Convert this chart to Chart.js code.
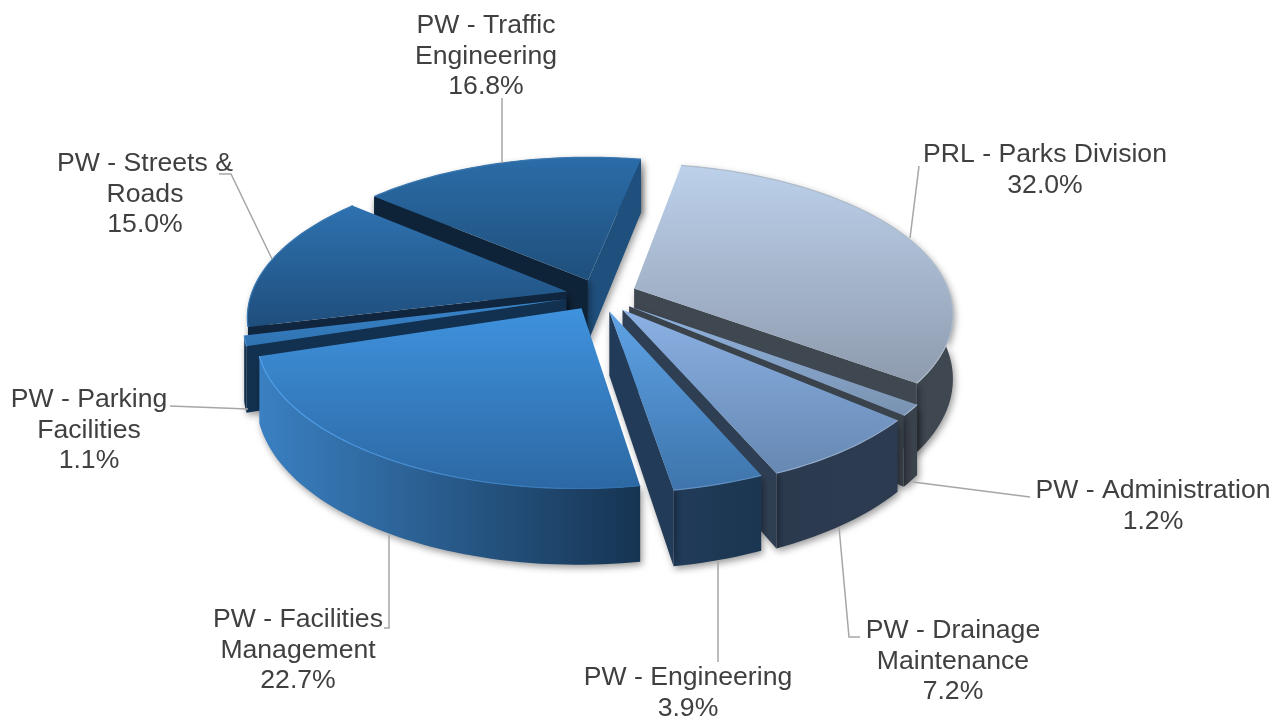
<!DOCTYPE html>
<html><head><meta charset="utf-8">
<style>html,body{margin:0;padding:0;background:#fff;overflow:hidden}canvas{display:block}</style>
<script src="https://cdn.jsdelivr.net/npm/chart.js@4"></script>
</head><body><canvas id="c" width="1276" height="716"></canvas>
<script>
const categories = ["PRL - Parks Division","PW - Administration","PW - Drainage Maintenance","PW - Engineering","PW - Facilities Management","PW - Parking Facilities","PW - Streets & Roads","PW - Traffic Engineering"];
const values = [32.0,1.2,7.2,3.9,22.7,1.1,15.0,16.8];
const explode = [38,38,39,36,33,34,33,34];
const topLight = ["#bdd1eb","#8fb3e0","#8bb1e4","#5ea3e6","#3f92de","#3a85cc","#2e72b0","#2b6ca8"];
const topDark  = ["#8e9bae","#7a92b0","#6688b2","#3e74ab","#2c68a3","#2f72b0","#1f4e7c","#1f4f7b"];
const rimLeft  = ["#aebccc","#9fb4cc","#8fa9c8","#5f8fc0","#52a2ee","#4a8ccc","#3a7ab4","#3a78b0"];
const rimRight = ["#aebccc","#9fb4cc","#8fa9c8","#5f8fc0","#2f6ca6","#4a8ccc","#3a7ab4","#3a78b0"];
const wallLeft = ["#3a424c","#3a424c","#2b394c","#263f60","#3a80c2","#12304f","#17385a","#1c4a78"];
const wallRight= ["#3f4751","#3a424c","#2c3b50","#1b3650","#163452","#12304f","#17385a","#1c4a78"];
const sideStart= ["#3f4751","#3a424c","#2f3f53","#223b58","#2d6cab","#12304f","#10263f","#0f2338"];
const sideEnd  = ["#3f4751","#3a424c","#2f3f53","#223b58","#173652","#12304f","#10263f","#1f4f7d"];

const view = {R:316, k:0.465, p:0.159, H:63};
const labelStyle = {font:'26.6px "Liberation Sans", Arial, sans-serif', color:'#404040', lh:30.5};
const labelLayout = [
 {x:1045,y:155,lines:["PRL - Parks Division","32.0%"],leader:[[919,166],[910,238]]},
 {x:1153,y:491,lines:["PW - Administration","1.2%"],leader:[[1030,497],[913,482]]},
 {x:953,y:631,lines:["PW - Drainage","Maintenance","7.2%"],leader:[[860,637],[849,637],[839,527]]},
 {x:688,y:678,lines:["PW - Engineering","3.9%"],leader:[[718,662],[718,561]]},
 {x:298,y:620,lines:["PW - Facilities","Management","22.7%"],leader:[[384,628],[389,628],[389,535]]},
 {x:89,y:400,lines:["PW - Parking","Facilities","1.1%"],leader:[[170,406],[248,409]]},
 {x:145,y:164,lines:["PW - Streets &","Roads","15.0%"],leader:[[219,174],[231,174],[272,259]]},
 {x:486,y:26,lines:["PW - Traffic","Engineering","16.8%"],leader:[[502,98],[502,163]]}
];

function project(arc,u,v){
  const s=1/(1-view.p*v);
  return {x:arc.x+view.R*u*s, y:arc.y+view.R*view.k*v*s, s};
}
function poly(ctx,pts){ctx.beginPath();pts.forEach((q,i)=>i?ctx.lineTo(q.x,q.y):ctx.moveTo(q.x,q.y));ctx.closePath();}
function shade(q){return {x:q.x,y:q.y+view.H*q.s};}

const pie3d = {
  id:'pie3d',
  beforeDatasetDraw(chart,args){
    const ctx=chart.ctx, arcs=chart.getDatasetMeta(args.index).data;
    const order=arcs.map((a,i)=>i).sort((a,b)=>{
      const m=x=>Math.sin((arcs[x].startAngle+arcs[x].endAngle)/2);return m(a)-m(b);});
    for(const i of order){
      const a=arcs[i], mid=(a.startAngle+a.endAngle)/2, off=a.options.offset/view.R;
      const ox=Math.cos(mid)*off, oy=Math.sin(mid)*off;
      const apex=project(a,ox,oy), rim=[], n=Math.max(4,Math.ceil((a.endAngle-a.startAngle)*40));
      for(let j=0;j<=n;j++){const t=a.startAngle+(a.endAngle-a.startAngle)*j/n;
        rim.push(project(a,ox+Math.cos(t),oy+Math.sin(t)));}
      const rimLow=rim.map(shade), all=[apex,...rim];
      const xs=rim.map(q=>q.x).concat(apex.x), ys=all.map(q=>q.y);
      const x0=Math.min(...xs),x1=Math.max(...xs),y0=Math.min(...ys),y1=Math.max(...ys);
      const g=ctx.createLinearGradient(x0,0,x1,0);g.addColorStop(0,wallLeft[i]);g.addColorStop(1,wallRight[i]);
      ctx.save();ctx.shadowColor='rgba(0,0,0,0.4)';ctx.shadowBlur=7;ctx.shadowOffsetX=2;ctx.shadowOffsetY=3;
      ctx.fillStyle=g;poly(ctx,[...rim,...rimLow.slice().reverse()]);ctx.fill();
      const cross=(p,q,r)=>(q.x-p.x)*(r.y-q.y)-(q.y-p.y)*(r.x-q.x);
      const e=rim[rim.length-1], st=rim[0], al=shade(apex);
      if(cross(apex,e,shade(e))>0){ctx.fillStyle=sideEnd[i];poly(ctx,[apex,e,shade(e),al]);ctx.fill();}
      if(cross(apex,st,shade(st))<0){ctx.fillStyle=sideStart[i];poly(ctx,[apex,st,shade(st),al]);ctx.fill();}
      ctx.restore();
      const tg=ctx.createLinearGradient(0,y0,0,y1);tg.addColorStop(0,topLight[i]);tg.addColorStop(1,topDark[i]);
      ctx.fillStyle=tg;poly(ctx,all);ctx.fill();
      const rg=ctx.createLinearGradient(x0,0,x1,0);rg.addColorStop(0,rimLeft[i]);rg.addColorStop(1,rimRight[i]);
      ctx.strokeStyle=rg;ctx.lineWidth=1.2;ctx.beginPath();
      rim.forEach((q,j)=>j?ctx.lineTo(q.x,q.y):ctx.moveTo(q.x,q.y));ctx.stroke();
    }
    return false;
  },
  afterDraw(chart){
    const ctx=chart.ctx;ctx.save();
    ctx.strokeStyle='#a6a6a6';ctx.lineWidth=1.5;
    labelLayout.forEach(l=>{ctx.beginPath();l.leader.forEach((q,j)=>j?ctx.lineTo(q[0],q[1]):ctx.moveTo(q[0],q[1]));ctx.stroke();});
    ctx.font=labelStyle.font;ctx.fillStyle=labelStyle.color;ctx.textAlign='center';ctx.textBaseline='middle';
    labelLayout.forEach(l=>l.lines.forEach((t,j)=>ctx.fillText(t,l.x,l.y+j*labelStyle.lh)));
    ctx.restore();
  }
};

new Chart(document.getElementById('c'),{
  type:'pie',
  data:{labels:categories,datasets:[{data:values,offset:explode,borderWidth:0,backgroundColor:topLight}]},
  options:{responsive:false,animation:false,rotation:11,
    layout:{padding:{right:78,bottom:126}},
    plugins:{legend:{display:false},tooltip:{enabled:false}}},
  plugins:[pie3d]
});
</script></body></html>
